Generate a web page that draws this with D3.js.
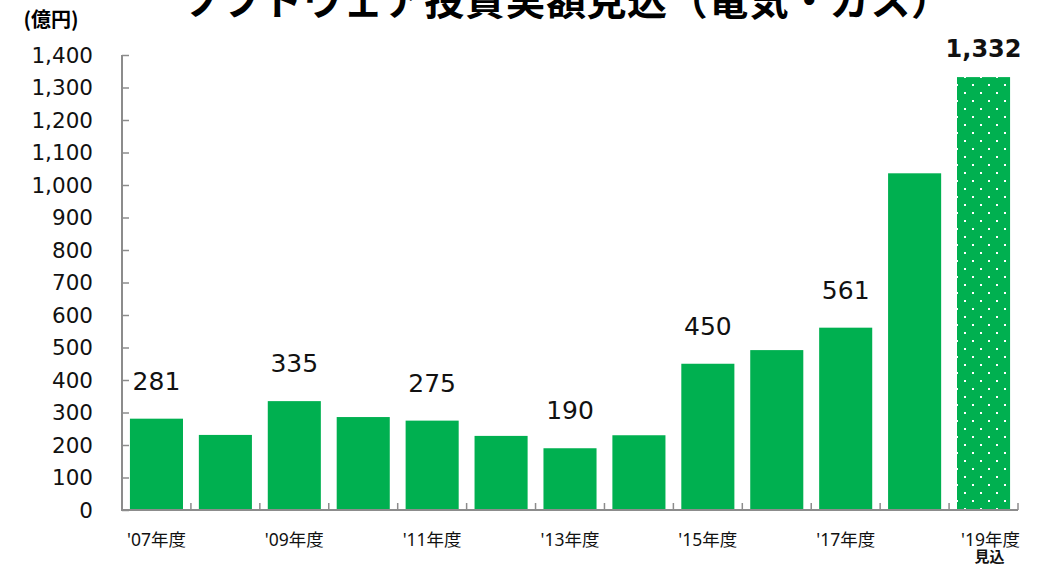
<!DOCTYPE html>
<html lang="ja">
  <head>
    <meta charset="UTF-8" />
    <title>ソフトウェア投資実額見込</title>
    <style>
      body { margin: 0; background: #fff; }
      svg { display: block; }
    </style>
  </head>
  <body>
    <div id="wrapper"></div>
    <script src="https://d3js.org/d3.v7.min.js"></script>
    <script>
      // data (億円)
      const years = ["2007", "2008", "2009", "2010", "2011", "2012", "2013",
                     "2014", "2015", "2016", "2017", "2018", "2019"];
      const values = [281, 231, 335, 286, 275, 228, 190, 230, 450, 492, 561, 1036, 1332];
      const tickLabels = ["'07年度", "", "'09年度", "", "'11年度", "", "'13年度",
                          "", "'15年度", "", "'17年度", "", "'19年度"];
      const subLabels = ["", "", "", "", "", "", "", "", "", "", "", "", "見込"];
      const shown = [true, false, true, false, true, false, true, false, true, false, true, false, true];
      const forecast = [false, false, false, false, false, false, false, false, false, false, false, false, true];
      const yTicks = [0, 100, 200, 300, 400, 500, 600, 700, 800, 900, 1000, 1100, 1200, 1300, 1400];

      const width = 1040, height = 568;
      const green = "#00b050", axisColor = "#8c8c8c";
      const numFont = "'DejaVu Sans', Verdana, sans-serif";
      const jpFont = "'Noto Sans CJK JP', sans-serif";
      const labelFont = "'Noto Sans', 'Noto Sans CJK JP', sans-serif";

      const svg = d3.select("#wrapper").append("svg")
        .attr("width", width)
        .attr("height", height);

      // white dot pattern for the forecast bar
      const pat = svg.append("defs").append("pattern")
        .attr("id", "dots")
        .attr("patternUnits", "userSpaceOnUse")
        .attr("x", 4).attr("y", 12)
        .attr("width", 16).attr("height", 16);
      pat.append("rect").attr("width", 16).attr("height", 16).attr("fill", green);
      pat.append("rect").attr("x", 0).attr("y", 0).attr("width", 2).attr("height", 2).attr("fill", "#fff");
      pat.append("rect").attr("x", 8).attr("y", 8).attr("width", 2).attr("height", 2).attr("fill", "#fff");

      const x = d3.scaleBand()
        .domain(years)
        .range([122, 1018])
        .paddingInner(0.23)
        .paddingOuter(0.115);

      const y = d3.scaleLinear()
        .domain([0, 1400])
        .range([510, 55]);

      // title (cut off at the top like the original)
      svg.append("text")
        .attr("x", 566).attr("y", 15)
        .attr("text-anchor", "middle")
        .attr("font-family", jpFont)
        .attr("font-weight", "bold")
        .attr("font-size", 40)
        .attr("textLength", 770)
        .text("ソフトウェア投資実額見込（電気・ガス）");

      svg.append("text")
        .attr("x", 51).attr("y", 27)
        .attr("text-anchor", "middle")
        .attr("font-family", jpFont)
        .attr("font-weight", "bold")
        .attr("font-size", 20)
        .text("(億円)");

      // bars
      svg.selectAll("rect.bar")
        .data(values)
        .join("rect")
        .attr("class", "bar")
        .attr("x", (d, i) => x(years[i]))
        .attr("y", d => y(d))
        .attr("width", x.bandwidth())
        .attr("height", d => y(0) - y(d))
        .attr("fill", (d, i) => forecast[i] ? "url(#dots)" : green);

      // y axis
      const yAxis = svg.append("g")
        .attr("transform", "translate(122,0)")
        .call(d3.axisRight(y).tickValues(yTicks).tickSize(7).tickFormat(""));
      yAxis.select(".domain").attr("stroke", axisColor).attr("stroke-width", 2)
        .attr("d", "M0," + y(1400) + "V" + y(0));
      yAxis.selectAll(".tick line").attr("stroke", axisColor).attr("stroke-width", 1.5);

      svg.append("g").selectAll("text")
        .data(yTicks)
        .join("text")
        .attr("x", 93)
        .attr("y", d => y(d))
        .attr("dy", "0.36em")
        .attr("text-anchor", "end")
        .attr("font-family", numFont)
        .attr("font-size", 21.5)
        .attr("fill", "#111")
        .text(d => d3.format(",")(d));

      // x axis: ticks sit on the band edges
      const edges = years.map(d => x(d) - x.step() * x.paddingInner() / 2).slice(1).concat([1018]);
      svg.append("line")
        .attr("x1", 121).attr("x2", 1018)
        .attr("y1", y(0)).attr("y2", y(0))
        .attr("stroke", axisColor).attr("stroke-width", 2);
      svg.append("g").selectAll("line")
        .data(edges)
        .join("line")
        .attr("x1", d => d).attr("x2", d => d)
        .attr("y1", y(0)).attr("y2", y(0) - 7)
        .attr("stroke", axisColor).attr("stroke-width", 1.5);

      svg.append("g").selectAll("text")
        .data(tickLabels)
        .join("text")
        .attr("x", (d, i) => x(years[i]) + x.bandwidth() / 2 + (subLabels[i] ? 7 : 0))
        .attr("y", 546)
        .attr("text-anchor", "middle")
        .attr("font-family", labelFont)
        .attr("font-size", 17.5)
        .attr("fill", "#111")
        .text(d => d);

      svg.append("g").selectAll("text")
        .data(subLabels)
        .join("text")
        .attr("x", (d, i) => x(years[i]) + x.bandwidth() / 2 + 6)
        .attr("y", 562)
        .attr("text-anchor", "middle")
        .attr("font-family", jpFont)
        .attr("font-weight", "bold")
        .attr("font-size", 15)
        .attr("fill", "#111")
        .text(d => d);

      // value labels
      svg.append("g").selectAll("text")
        .data(values)
        .join("text")
        .attr("x", (d, i) => x(years[i]) + x.bandwidth() / 2)
        .attr("y", (d, i) => forecast[i] ? y(d) - 20 : y(d) - 29)
        .attr("text-anchor", "middle")
        .attr("font-family", numFont)
        .attr("font-size", (d, i) => forecast[i] ? 24 : 25)
        .attr("font-weight", (d, i) => forecast[i] ? "bold" : "normal")
        .attr("fill", "#111")
        .text((d, i) => shown[i] ? d3.format(",")(d) : "");
    </script>
  </body>
</html>
